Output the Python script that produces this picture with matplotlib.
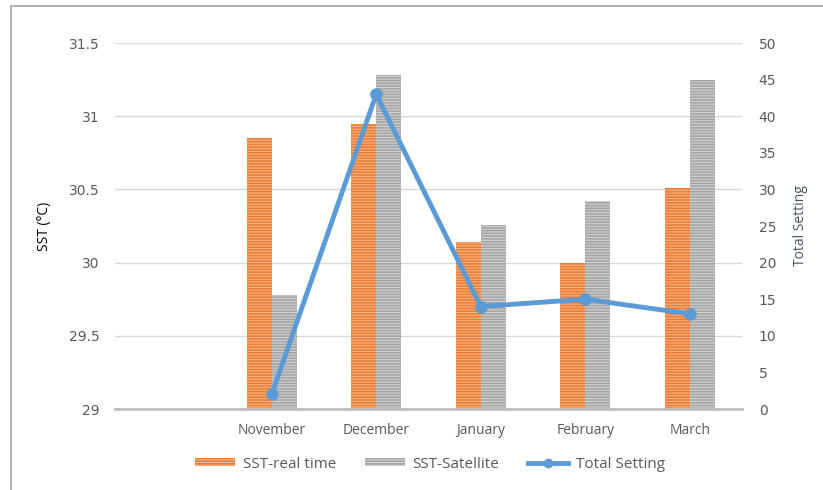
import numpy as np
import matplotlib.pyplot as plt
from matplotlib.lines import Line2D
from matplotlib.patches import Patch, Rectangle

months = ["", "November", "December", "January", "February", "March"]
sst_real_time = [np.nan, 30.85, 30.95, 30.14, 30.00, 30.51]
sst_satellite = [np.nan, 29.78, 31.28, 30.26, 30.42, 31.25]
total_setting = [np.nan, 2, 43, 14, 15, 13]

orange = "#ED7D31"
grey = "#A5A5A5"
blue = "#5B9BD5"
tick_col = "#595959"

plt.rcParams["font.family"] = ["DejaVu Sans"]
plt.rcParams["hatch.linewidth"] = 0.8

fig = plt.figure(figsize=(8.23, 4.9), dpi=100)
ax = fig.add_axes([115 / 823, 1 - 409 / 490, 627 / 823, 366 / 490])
ax2 = ax.twinx()

x = np.arange(len(months))
w = 0.24
ax.bar(x - w / 2, sst_real_time, w, color=orange,
       edgecolor="#F6B48A", linewidth=0, hatch="------", zorder=2)
ax.bar(x + w / 2, sst_satellite, w, color=grey,
       edgecolor="#D0D0D0", linewidth=0, hatch="------", zorder=2)

ax.set_ylim(29, 31.5)
ax.set_xlim(-0.5, len(months) - 0.5)
ax.set_yticks([29, 29.5, 30, 30.5, 31, 31.5])
ax.set_yticklabels(["29", "29.5", "30", "30.5", "31", "31.5"])
ax.set_xticks(x)
ax.set_xticklabels(months, fontsize=10, color=tick_col, family="Open Sans")
ax.grid(axis="y", color="#D9D9D9", linewidth=1, zorder=0)
ax.set_axisbelow(True)
ax.tick_params(axis="y", length=0, labelsize=10, labelcolor=tick_col, pad=11)
ax.tick_params(axis="x", length=0, pad=10)
for s in ["top", "right", "left"]:
    ax.spines[s].set_visible(False)
ax.spines["bottom"].set_color("#BFBFBF")
ax.spines["bottom"].set_linewidth(2)
ax.set_ylabel("SST (°C)", fontsize=10, color="#000000", family="Open Sans",
              labelpad=12)

ax2.plot(x, total_setting, color=blue, linewidth=3.5, marker="o",
         markersize=8, zorder=3)
ax2.set_ylim(0, 50)
ax2.set_yticks(range(0, 51, 5))
ax2.tick_params(axis="y", length=0, labelsize=10, labelcolor=tick_col, pad=12)
for s in ax2.spines.values():
    s.set_visible(False)
ax2.set_ylabel("Total Setting", fontsize=10, color="#44546A",
               family="Open Sans", labelpad=12)

# outer chart frame
fig.patches.append(Rectangle((11 / 823, -0.1), 1.2, 1.1 - 6 / 490,
                             transform=fig.transFigure, fill=False,
                             edgecolor="#A6A6A6", linewidth=1.2))

handles = [
    Patch(facecolor=orange, edgecolor="#F6B48A", linewidth=0, hatch="------"),
    Patch(facecolor=grey, edgecolor="#D0D0D0", linewidth=0, hatch="------"),
    Line2D([0], [0], color=blue, linewidth=3.5, marker="o", markersize=6),
]
fig.legend(handles, ["SST-real time", "SST-Satellite", "Total Setting"],
           loc="center", bbox_to_anchor=(430 / 823, 1 - 464 / 490), ncol=3,
           frameon=False, labelcolor=tick_col,
           prop={"family": "Open Sans", "size": 11},
           handlelength=2.6, handleheight=0.5, handletextpad=0.5,
           columnspacing=1.9)

fig.savefig("out.png", dpi=100)
